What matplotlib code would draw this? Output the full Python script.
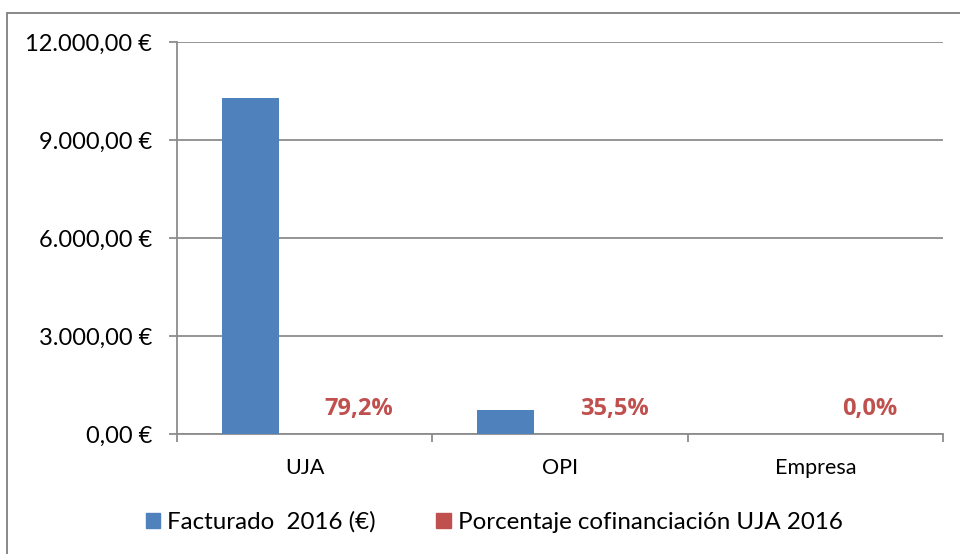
import matplotlib.pyplot as plt
from matplotlib.patches import Rectangle, Patch
import numpy as np

# Data
categories = ["UJA", "OPI", "Empresa"]
facturado = [10280, 740, 0]          # Facturado 2016 (€)
cofinanciacion = [0.792, 0.355, 0.0]  # Porcentaje cofinanciación UJA 2016
cofin_labels = ["79,2%", "35,5%", "0,0%"]
yticks = [0, 3000, 6000, 9000, 12000]
ytick_labels = ["0,00 €", "3.000,00 €", "6.000,00 €", "9.000,00 €", "12.000,00 €"]

BLUE = "#4F81BD"
RED = "#C0504D"
GRID = "#8C8C8C"

plt.rcParams['font.family'] = ['Lato', 'DejaVu Sans']

fig = plt.figure(figsize=(9.6, 5.54), dpi=100)
ax = fig.add_axes([177 / 960, 1 - 434 / 554, (943 - 177) / 960, (434 - 42) / 554])

# outer chart border (runs off the right/bottom edge in the reference)
fig.patches.append(Rectangle((7 / 960, -0.05), 1.1, 1 - 13 / 554 + 0.05,
                             transform=fig.transFigure, fill=False,
                             edgecolor="#7F7F7F", linewidth=1.3, zorder=0))

x = np.arange(len(categories))
off = 0.212
width = 0.223
ax.bar(x - off, facturado, width, color=BLUE, zorder=3)
ax.bar(x + off, cofinanciacion, width, color=RED, zorder=3)

for xi, v, lab in zip(x, cofinanciacion, cofin_labels):
    ax.annotate(lab, (xi + off, v), xytext=(0, 14), textcoords="offset points",
                ha="center", va="baseline", color=RED, fontsize=17,
                fontweight="bold", family=["Open Sans", "DejaVu Sans"])

ax.set_xlim(-0.5, 2.5)
ax.set_ylim(0, 12000)
ax.set_yticks(yticks)
ax.set_yticklabels(ytick_labels, fontsize=17)
ax.yaxis.grid(True, color=GRID, linewidth=1.3, zorder=0)
ax.set_axisbelow(True)

ax.set_xticks(x)
ax.set_xticklabels(categories, fontsize=15.5)
ax.set_xticks([-0.5, 0.5, 1.5, 2.5], minor=True)
ax.tick_params(axis="x", which="major", length=0, pad=17)
ax.tick_params(axis="x", which="minor", length=6, color=GRID, width=1.3)
ax.tick_params(axis="y", length=6, color=GRID, width=1.3, pad=12)

for s in ["top", "right"]:
    ax.spines[s].set_visible(False)
for s in ["left", "bottom"]:
    ax.spines[s].set_color(GRID)
    ax.spines[s].set_linewidth(1.3)

handles = [Patch(color=BLUE, label="Facturado  2016 (€)"),
           Patch(color=RED, label="Porcentaje cofinanciación UJA 2016")]
fig.legend(handles=handles, loc="center", bbox_to_anchor=(0.515, 1 - 522 / 554),
           ncol=2, frameon=False, fontsize=17.4, handlelength=0.6,
           handleheight=0.6, handletextpad=0.3, columnspacing=2.5)

fig.savefig("out.png", dpi=100)
